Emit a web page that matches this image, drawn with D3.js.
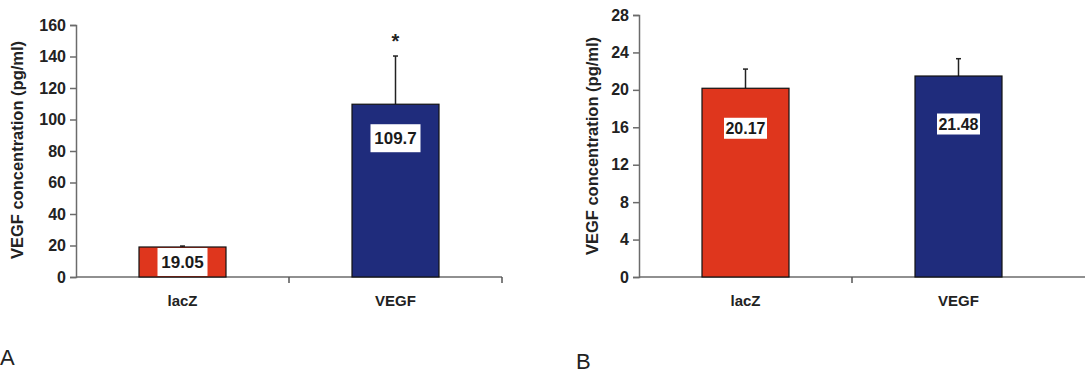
<!DOCTYPE html>
<html>
<head>
<meta charset="utf-8">
<script src="https://cdn.jsdelivr.net/npm/d3@7"></script>
<style>
  body { margin: 0; background: #fff; }
  svg { display: block; }
  text { font-family: "Liberation Sans", Arial, sans-serif; }
</style>
</head>
<body>
<svg id="chart" width="1085" height="376"></svg>
<script>
// values
const categories = ["lacZ", "VEGF"];
const colors = ["#df361d", "#1f2c7c"];

const valuesA = [19.05, 109.7];
const errorsA = [0.6, 30.6];
const labelsA = ["19.05", "109.7"];
const ticksA = [0, 20, 40, 60, 80, 100, 120, 140, 160];
const starsA = ["", "*"];

const valuesB = [20.17, 21.48];
const errorsB = [2.05, 1.85];
const labelsB = ["20.17", "21.48"];
const ticksB = [0, 4, 8, 12, 16, 20, 24, 28];
const starsB = ["", ""];

const svg = d3.select("#chart");

function drawPanel(opts) {
  const g = svg.append("g");
  const y = d3.scaleLinear().domain([0, opts.ymax]).range([277, opts.ytop]);
  const x = d3.scaleBand().domain(categories).range([opts.x0, opts.x0 + 426]).paddingInner(0).paddingOuter(0);
  const bw = 87;

  // x axis line
  g.append("line")
    .attr("x1", opts.x0).attr("x2", opts.xEnd)
    .attr("y1", y(0)).attr("y2", y(0))
    .attr("stroke", "#6b6b6b").attr("stroke-width", 1.5);
  // category separator ticks
  opts.xTicks.forEach(i => {
    const xx = i < categories.length ? x(categories[i]) : x.range()[1];
    g.append("line")
      .attr("x1", xx).attr("x2", xx)
      .attr("y1", y(0)).attr("y2", y(0) + 6)
      .attr("stroke", "#555").attr("stroke-width", 1.5);
  });

  // y axis
  const yAxis = d3.axisLeft(y).tickValues(opts.ticks).tickSize(6).tickPadding(4);
  const ya = g.append("g").attr("transform", `translate(${opts.x0},0)`).call(yAxis);
  ya.select(".domain").attr("stroke", "#6b6b6b").attr("stroke-width", 1.5);
  ya.selectAll(".tick line").attr("stroke", "#6b6b6b").attr("stroke-width", 1.5);
  ya.selectAll(".tick text")
    .attr("font-family", "Liberation Sans, Arial, sans-serif")
    .attr("font-size", 16).attr("font-weight", "bold").attr("fill", "#222");

  // axis title
  g.append("text")
    .attr("transform", `translate(${opts.titleX},${opts.titleY}) rotate(-90)`)
    .attr("text-anchor", "middle")
    .attr("font-size", 16.5).attr("font-weight", "bold").attr("fill", "#222")
    .text("VEGF concentration (pg/ml)");

  const cx = d => x(d) + x.bandwidth() / 2;

  // error bars
  categories.forEach((c, i) => {
    const top = y(opts.values[i] + opts.errors[i]);
    g.append("line")
      .attr("x1", cx(c)).attr("x2", cx(c))
      .attr("y1", y(opts.values[i])).attr("y2", top)
      .attr("stroke", "#222").attr("stroke-width", 1.5);
    g.append("line")
      .attr("x1", cx(c) - 2.5).attr("x2", cx(c) + 2.5)
      .attr("y1", top).attr("y2", top)
      .attr("stroke", "#222").attr("stroke-width", 1.5);
  });

  // bars
  g.selectAll("rect.bar")
    .data(categories)
    .join("rect")
    .attr("class", "bar")
    .attr("x", d => cx(d) - bw / 2)
    .attr("width", bw)
    .attr("y", (d, i) => y(opts.values[i]))
    .attr("height", (d, i) => y(0) - y(opts.values[i]))
    .attr("fill", (d, i) => colors[i])
    .attr("stroke", "#111").attr("stroke-width", 1.2);

  // value labels
  categories.forEach((c, i) => {
    const top = y(opts.values[i]);
    const cy = Math.min(top + opts.labelOffset[i], (top + y(0)) / 2);
    const h = Math.min(opts.labelH, y(0) - top - 1);
    g.append("rect")
      .attr("x", cx(c) - opts.labelW / 2).attr("width", opts.labelW)
      .attr("y", cy - h / 2).attr("height", h)
      .attr("fill", "#fff");
    g.append("text")
      .attr("x", cx(c)).attr("y", cy)
      .attr("dy", "0.36em").attr("text-anchor", "middle")
      .attr("font-size", opts.labelSize).attr("font-weight", "bold").attr("fill", "#1a1a1a")
      .text(opts.labels[i]);
    if (opts.stars[i]) {
      g.append("text")
        .attr("x", cx(c)).attr("y", y(opts.values[i] + opts.errors[i]) - 8)
        .attr("text-anchor", "middle")
        .attr("font-size", 20).attr("font-weight", "bold").attr("fill", "#222")
        .text(opts.stars[i]);
    }
    // category label
    g.append("text")
      .attr("x", cx(c)).attr("y", 306)
      .attr("text-anchor", "middle")
      .attr("font-family", "Liberation Sans Narrow, Liberation Sans, Arial, sans-serif")
      .attr("font-size", 15).attr("font-weight", "bold").attr("fill", "#222")
      .text(c);
  });

  g.append("text")
    .attr("x", opts.letterX).attr("y", opts.letterY)
    .attr("font-size", 22).attr("fill", "#222")
    .text(opts.letter);
}

drawPanel({
  x0: 76, xEnd: 502, xTicks: [1, 2], ymax: 160, ytop: 25,
  ticks: ticksA, values: valuesA, errors: errorsA, labels: labelsA, stars: starsA,
  labelOffset: [15, 34], labelW: 50, labelH: 28, labelSize: 17,
  titleX: 23, titleY: 150, letter: "A", letterX: 0, letterY: 365
});

drawPanel({
  x0: 639, xEnd: 1085, xTicks: [1], ymax: 28, ytop: 15,
  ticks: ticksB, values: valuesB, errors: errorsB, labels: labelsB, stars: starsB,
  labelOffset: [40, 48], labelW: 43, labelH: 21, labelSize: 16,
  titleX: 598, titleY: 146, letter: "B", letterX: 576, letterY: 369
});
</script>
</body>
</html>
